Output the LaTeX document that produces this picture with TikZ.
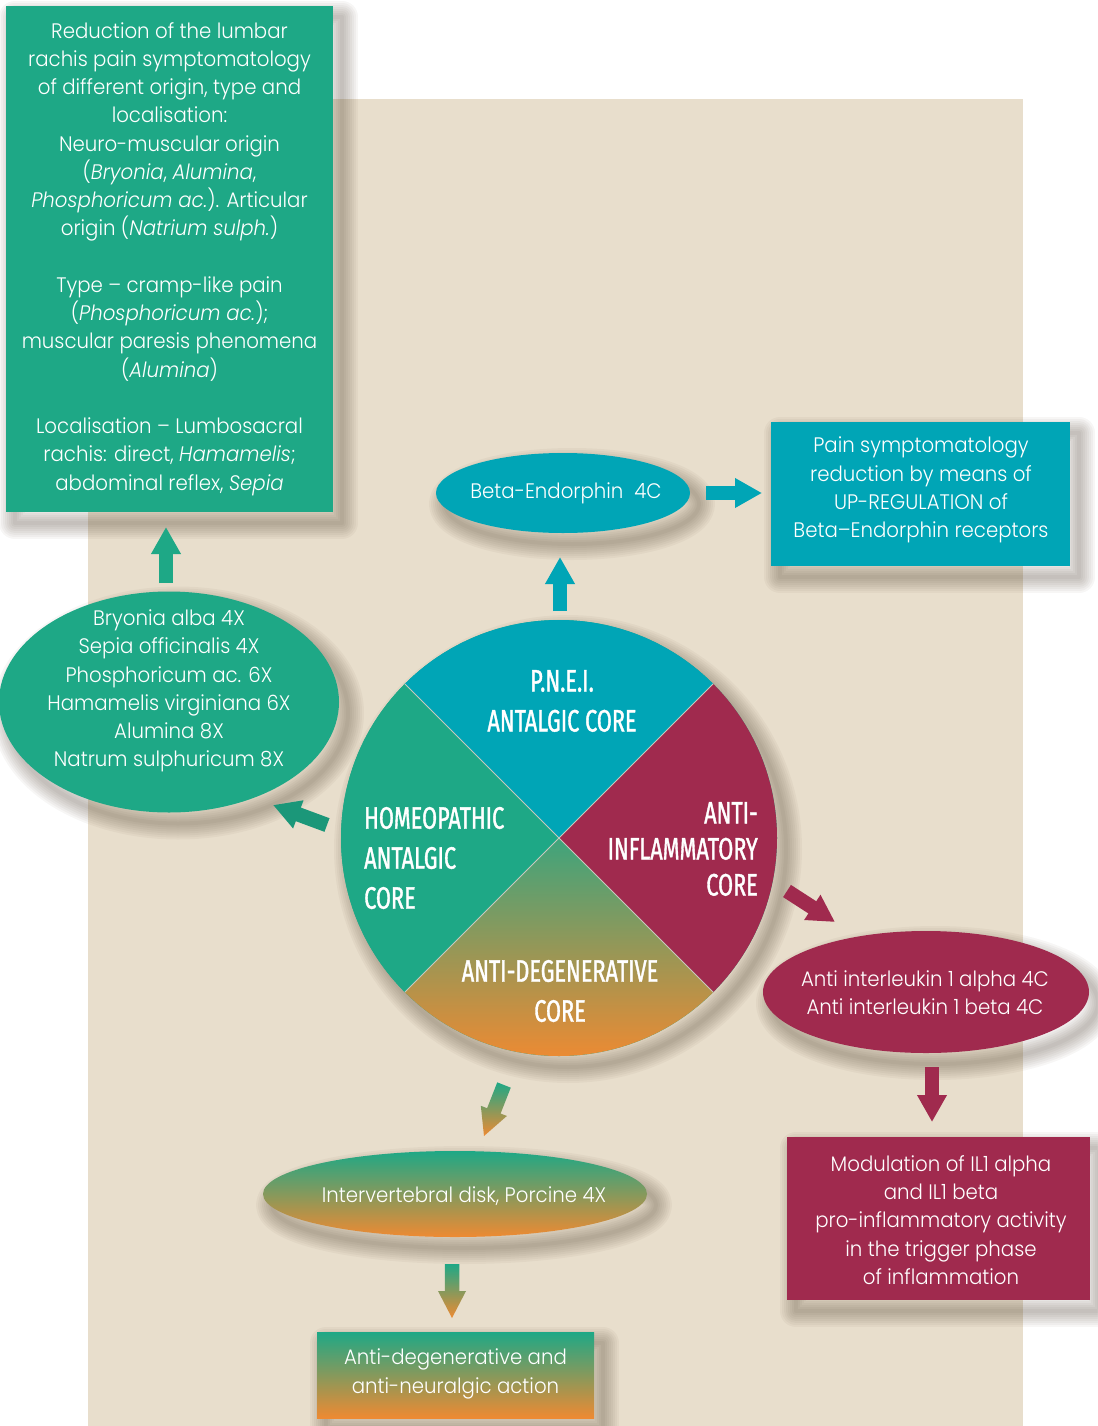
\documentclass[tikz,border=0pt]{standalone}
\usepackage{fontspec}
\setmainfont{Poppins}[UprightFont={* Light}, ItalicFont={* Light Italic}, FakeStretch=0.94]
\newfontfamily\condfont[FakeStretch=0.7, FakeBold=1.2]{Fira Sans}
\usetikzlibrary{shapes.geometric,arrows.meta,calc}
\definecolor{bg}{RGB}{232,222,204}
\definecolor{hgreen}{RGB}{30,168,134}
\definecolor{hcyan}{RGB}{0,165,182}
\definecolor{hred}{RGB}{160,42,78}
\definecolor{horange}{RGB}{238,138,50}
\definecolor{holive}{RGB}{150,160,98}
\definecolor{hteal}{RGB}{62,164,124}
\definecolor{sepline}{RGB}{200,200,190}
\definecolor{shc}{RGB}{70,55,40}
\tikzset{
 txt/.style={text=white, font=\fontsize{21}{28.25}\selectfont, align=center, inner sep=0pt},
 head/.style={text=white, font=\condfont\fontsize{31}{40}\selectfont, inner sep=0pt},
 shs/.style={preaction={draw=shc, line width=#1, line join=round, opacity=0.045, transform canvas={shift={(9pt,-11pt)}}}},
 shad/.style={shs=32pt, shs=28pt, shs=24pt, shs=20pt, shs=16pt, shs=12pt, shs=8pt, shs=4pt},
 box/.style={rectangle, inner sep=0pt, shad},
 ellnode/.style={ellipse, inner sep=0pt, shad},
 barrow/.style={line width=14.5pt, -{Triangle[width=28pt,length=27pt]}},
 gradfill/.style={top color=hgreen, bottom color=horange},
}
\newcommand\gradarrow[2]{%
 \coordinate (#2h) at ($(#2)!27pt!(#1)$);
 \shade[gradfill]
  ($(#1)!7.25pt!90:(#2)$) -- ($(#2h)!7.25pt!90:(#2)$) -- ($(#2h)!14pt!90:(#2)$) --
  (#2) -- ($(#2h)!14pt!-90:(#2)$) -- ($(#2h)!7.25pt!-90:(#2)$) -- ($(#1)!7.25pt!-90:(#2)$) -- cycle;
}
\begin{document}
\begin{tikzpicture}[x=1pt,y=-1pt]
\useasboundingbox (0,0) rectangle (1097,1426);
\fill[white] (0,0) rectangle (1097,1426);
\fill[bg] (88,99) rectangle (1023,1426);

% ---- central circle ----
\coordinate (C) at (559,838);
\fill[hgreen, shad] (C) circle[radius=218pt];
\begin{scope}
 \clip (C) circle[radius=218pt];
 \fill[hcyan] (C) -- ++(-230,-230) -- ++(460,0) -- cycle;
 \fill[hred] (C) -- ++(230,-230) -- ++(0,460) -- cycle;
 \fill[hgreen] (C) -- ++(-230,-230) -- ++(0,460) -- cycle;
 \shade[top color=hteal, middle color=holive, bottom color=horange] (C) -- ++(-222,222) -- ++(444,0) -- cycle;
 \draw[sepline, line width=0.8pt] ($(C)+(-160,-160)$) -- ($(C)+(160,160)$);
 \draw[sepline, line width=0.8pt] ($(C)+(160,-160)$) -- ($(C)+(-160,160)$);
\end{scope}
\node[head, align=center] (pnei) at (562,701) {P.N.E.I.\\ANTALGIC CORE};
\node[head, align=left, anchor=west] (homeo) at (364,858) {HOMEOPATHIC\\ANTALGIC\\CORE};
\node[head, align=right, anchor=east, font=\condfont\fontsize{31}{36}\selectfont] (antiinf) at (758,849) {ANTI-\\INFLAMMATORY\\CORE};
\node[head, align=center] (antideg) at (560,991) {ANTI-DEGENERATIVE\\CORE};

% ---- top left box ----
\node[box, fill=hgreen, minimum width=327pt, minimum height=506pt] (lbox) at (169.5,259) {};
\node[txt] (lboxt) at (169.5,259) {Reduction of the lumbar\\
rachis pain symptomatology\\
of different origin, type and\\
localisation:\\
Neuro-muscular origin\\
(\textit{Bryonia}, \textit{Alumina},\\
\textit{Phosphoricum ac.}). Articular\\
origin (\textit{Natrium sulph.})\\
~\\
Type -- cramp-like pain\\
(\textit{Phosphoricum ac.});\\
muscular paresis phenomena\\
(\textit{Alumina})\\
~\\
Localisation -- Lumbosacral\\
rachis: direct, \textit{Hamamelis};\\
abdominal reflex, \textit{Sepia}};

% ---- green ellipse ----
\node[ellnode, fill=hgreen, minimum width=340pt, minimum height=221pt] (gell) at (169,702) {};
\node[txt] (gellt) at (169,691) {Bryonia alba 4X\\Sepia officinalis 4X\\Phosphoricum ac. 6X\\Hamamelis virginiana 6X\\Alumina 8X\\Natrum sulphuricum 8X};

% ---- beta endorphin ----
\node[ellnode, fill=hcyan, minimum width=254pt, minimum height=80pt] (beta) at (563,493) {};
\node[txt] (betat) at (566,493) {Beta-Endorphin\ \ 4C};
\node[box, fill=hcyan, minimum width=299pt, minimum height=144pt] (cbox) at (920.5,494) {};
\node[txt] (cboxt) at (921,490) {Pain symptomatology\\reduction by means of\\UP-REGULATION of\\Beta--Endorphin receptors};

% ---- interleukin ----
\node[ellnode, fill=hred, minimum width=326pt, minimum height=122pt] (rell) at (926,992) {};
\node[txt] (rellt) at (925,993) {Anti interleukin 1 alpha 4C\\Anti interleukin 1 beta 4C};
\node[box, fill=hred, minimum width=303pt, minimum height=163pt] (rbox) at (938.5,1218.5) {};
\node[txt] (rboxt) at (941,1220) {Modulation of IL1 alpha\\and IL1 beta\\pro-inflammatory activity\\in the trigger phase\\of inflammation};

% ---- degenerative ----
\node[ellnode, gradfill, minimum width=384pt, minimum height=86pt] (dell) at (455,1194) {};
\node[txt] (dellt) at (464,1196) {Intervertebral disk, Porcine 4X};
\node[box, gradfill, minimum width=277pt, minimum height=86pt] (dbox) at (455.5,1375) {};
\node[txt] (dboxt) at (455.5,1374) {Anti-degenerative and\\anti-neuralgic action};

% ---- arrows ----
\coordinate (a1s) at (560,611); \coordinate (a1e) at (560,557);
\coordinate (a2s) at (706,493); \coordinate (a2e) at (762,493);
\coordinate (a3s) at (166,583); \coordinate (a3e) at (166,527);
\coordinate (a4s) at (327,825); \coordinate (a4e) at (273,805);
\coordinate (a5s) at (787,891); \coordinate (a5e) at (835,922);
\coordinate (a6s) at (932,1067); \coordinate (a6e) at (932,1122);
\coordinate (g1s) at (504,1085); \coordinate (g1e) at (484,1136);
\coordinate (g2s) at (452,1264); \coordinate (g2e) at (452,1318);
\draw[barrow, hcyan] (a1s) -- (a1e);
\draw[barrow, hcyan] (a2s) -- (a2e);
\draw[barrow, hgreen] (a3s) -- (a3e);
\draw[barrow, hgreen!90!black] (a4s) -- (a4e);
\draw[barrow, hred] (a5s) -- (a5e);
\draw[barrow, hred] (a6s) -- (a6e);
\gradarrow{g1s}{g1e}
\gradarrow{g2s}{g2e}
\end{tikzpicture}
\end{document}
